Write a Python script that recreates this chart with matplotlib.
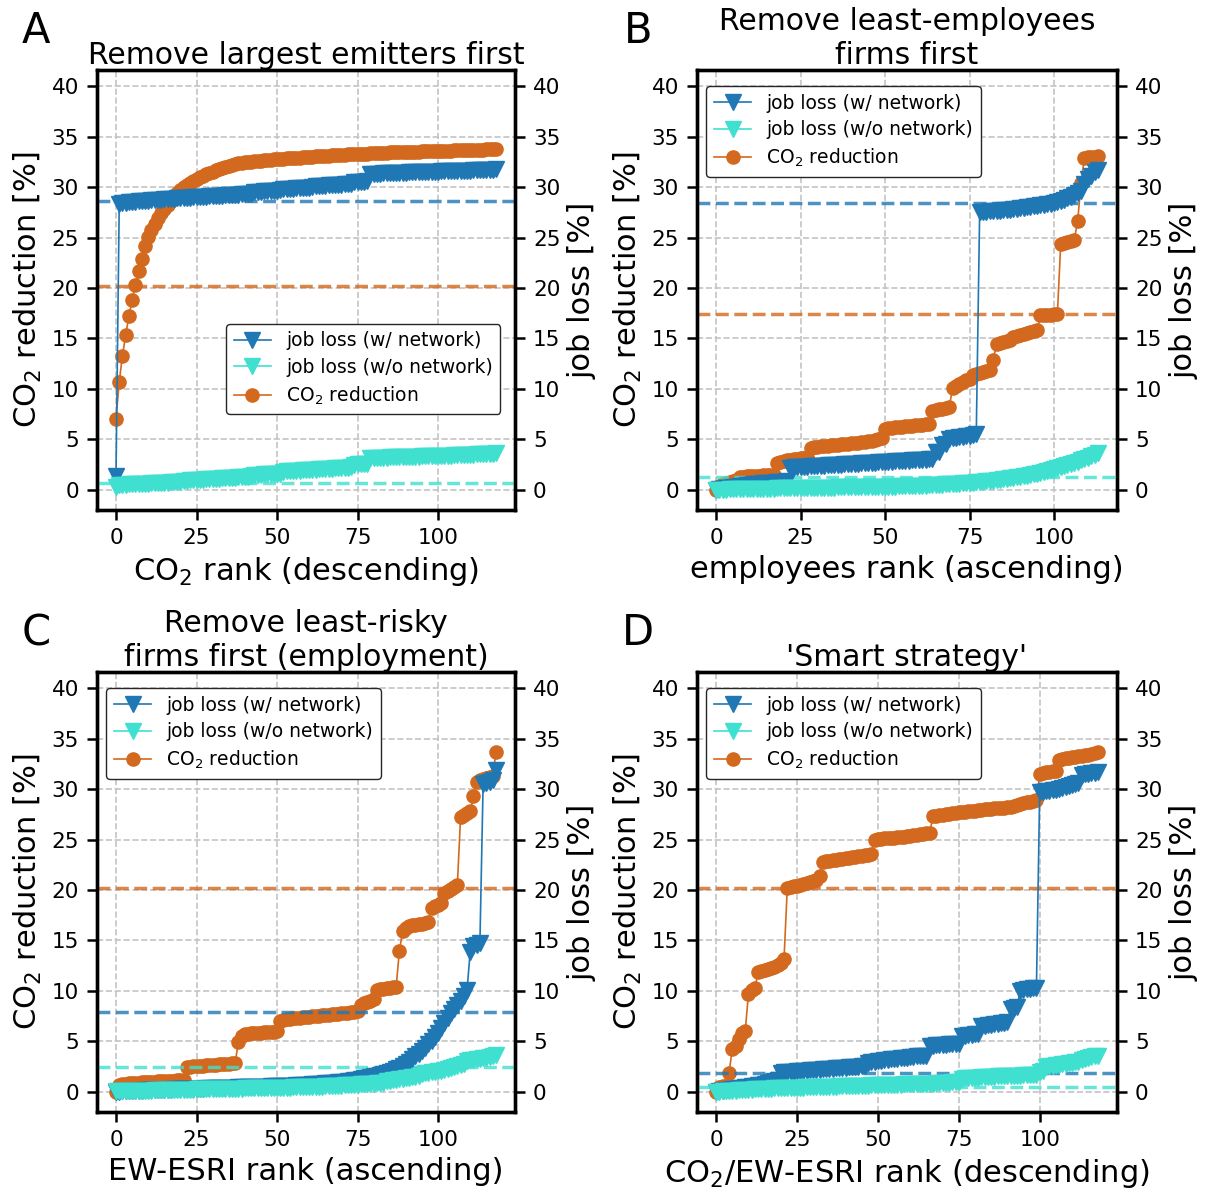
import matplotlib
matplotlib.use("Agg")
import matplotlib.pyplot as plt
from matplotlib.lines import Line2D
import numpy as np

# ---------------- data ----------------
titles = ["Remove largest emitters first",
          "Remove least-employees\nfirms first",
          "Remove least-risky\nfirms first (employment)",
          "'Smart strategy'"]
xlabels = ["CO$_2$ rank (descending)", "employees rank (ascending)",
           "EW-ESRI rank (ascending)", "CO$_2$/EW-ESRI rank (descending)"]
letters = ["A", "B", "C", "D"]

A_co2 = [7.0, 10.7, 13.3, 15.3, 17.2, 18.8, 20.3, 21.7, 22.9, 24.2,
         25.1, 25.7, 26.3, 26.9, 27.4, 27.8, 28.2, 28.6, 29.0, 29.4,
         29.7, 30.0, 30.2, 30.4, 30.6, 30.8, 31.0, 31.1, 31.3, 31.4,
         31.5, 31.65, 31.8, 31.9, 32.0, 32.1, 32.2, 32.3, 32.35, 32.4,
         32.45, 32.5, 32.5, 32.55, 32.6, 32.6, 32.65, 32.7, 32.7, 32.75,
         32.75, 32.8, 32.8, 32.85, 32.85, 32.9, 32.9, 32.9, 32.95, 32.95,
         33.0, 33.0, 33.05, 33.05, 33.1, 33.1, 33.1, 33.15, 33.15, 33.2,
         33.2, 33.2, 33.25, 33.25, 33.25, 33.3, 33.3, 33.3, 33.32, 33.34,
         33.36, 33.38, 33.4, 33.41, 33.42, 33.43, 33.44, 33.45, 33.46, 33.47,
         33.48, 33.49, 33.5, 33.51, 33.52, 33.53, 33.54, 33.55, 33.56, 33.57,
         33.58, 33.59, 33.6, 33.61, 33.62, 33.63, 33.64, 33.65, 33.66, 33.67,
         33.68, 33.69, 33.7, 33.71, 33.72, 33.73, 33.74, 33.75, 33.76]
A_net = [1.4, 28.3, 28.4, 28.45, 28.5, 28.5, 28.55, 28.6, 28.6, 28.65,
         28.65, 28.7, 28.7, 28.75, 28.75, 28.8, 28.8, 28.85, 28.85, 28.9,
         28.9, 28.9, 28.95, 28.95, 29.0, 29.0, 29.0, 29.05, 29.05, 29.1,
         29.1, 29.1, 29.15, 29.15, 29.2, 29.2, 29.2, 29.25, 29.25, 29.3,
         29.3, 29.3, 29.35, 29.5, 29.55, 29.55, 29.6, 29.6, 29.6, 29.65,
         29.65, 29.7, 29.8, 29.8, 29.85, 29.85, 29.9, 29.9, 29.9, 29.95,
         29.95, 30.0, 30.1, 30.1, 30.15, 30.15, 30.2, 30.2, 30.2, 30.25,
         30.25, 30.3, 30.3, 30.3, 30.5, 30.5, 30.55, 30.55, 30.6, 31.3,
         31.3, 31.32, 31.34, 31.35, 31.36, 31.38, 31.4, 31.41, 31.42, 31.43,
         31.44, 31.45, 31.46, 31.47, 31.48, 31.49, 31.5, 31.51, 31.52, 31.53,
         31.54, 31.55, 31.56, 31.57, 31.58, 31.59, 31.6, 31.61, 31.62, 31.63,
         31.64, 31.65, 31.66, 31.67, 31.68, 31.7, 31.71, 31.72, 31.75]
A_nonet = [0.3, 0.48, 0.5, 0.52, 0.53, 0.55, 0.56, 0.58, 0.59, 0.6,
           0.62, 0.63, 0.65, 0.66, 0.68, 0.7, 0.71, 0.73, 0.75, 0.77,
           0.8, 0.83, 0.88, 0.95, 0.97, 0.99, 1.0, 1.02, 1.04, 1.06,
           1.08, 1.1, 1.12, 1.14, 1.16, 1.18, 1.2, 1.22, 1.24, 1.25,
           1.27, 1.3, 1.32, 1.46, 1.48, 1.5, 1.52, 1.54, 1.55, 1.57,
           1.58, 1.6, 1.8, 1.82, 1.84, 1.86, 1.88, 1.9, 1.92, 1.94,
           1.96, 1.98, 2.0, 2.02, 2.04, 2.06, 2.08, 2.1, 2.12, 2.14,
           2.16, 2.18, 2.2, 2.25, 2.5, 2.52, 2.55, 2.57, 2.6, 3.15,
           3.16, 3.17, 3.18, 3.19, 3.2, 3.21, 3.22, 3.23, 3.24, 3.25,
           3.26, 3.27, 3.28, 3.29, 3.3, 3.31, 3.32, 3.33, 3.34, 3.35,
           3.36, 3.37, 3.38, 3.39, 3.4, 3.41, 3.42, 3.43, 3.44, 3.45,
           3.46, 3.48, 3.5, 3.51, 3.53, 3.55, 3.56, 3.58, 3.6]

B_co2 = [0.0, 0.4, 0.6, 0.7, 0.8, 0.9, 1.0, 1.3, 1.3, 1.35,
         1.35, 1.4, 1.4, 1.4, 1.45, 1.45, 1.45, 1.5, 2.7, 2.8,
         2.9, 2.95, 3.0, 3.05, 3.1, 3.15, 3.2, 3.25, 4.1, 4.2,
         4.25, 4.3, 4.3, 4.35, 4.4, 4.4, 4.45, 4.5, 4.5, 4.55,
         4.6, 4.6, 4.65, 4.7, 4.75, 4.8, 4.85, 4.9, 5.0, 5.1,
         6.0, 6.1, 6.15, 6.2, 6.2, 6.25, 6.3, 6.3, 6.35, 6.4,
         6.4, 6.45, 6.5, 6.5, 7.8, 7.9, 8.0, 8.0, 8.1, 8.2,
         10.1, 10.3, 10.5, 10.7, 10.9, 11.0, 11.4, 11.5, 11.6, 11.7,
         11.8, 11.9, 12.9, 14.4, 14.5, 14.6, 14.7, 14.8, 15.1, 15.2,
         15.3, 15.4, 15.5, 15.6, 15.7, 15.8, 17.3, 17.3, 17.3, 17.35,
         17.4, 17.4, 24.4, 24.5, 24.6, 24.7, 24.8, 26.6, 30.4, 32.9,
         33.0, 33.0, 33.0, 33.05]
B_net = [0.0, 0.05, 0.1, 0.15, 0.2, 0.25, 0.3, 0.35, 0.4, 0.45,
         0.5, 0.55, 0.6, 0.62, 0.65, 0.68, 0.7, 0.72, 0.75, 0.78,
         0.8, 0.85, 2.2, 2.22, 2.24, 2.26, 2.28, 2.3, 2.32, 2.34,
         2.36, 2.38, 2.4, 2.42, 2.44, 2.46, 2.48, 2.5, 2.52, 2.54,
         2.56, 2.58, 2.6, 2.62, 2.64, 2.66, 2.68, 2.7, 2.72, 2.74,
         2.76, 2.78, 2.8, 2.82, 2.84, 2.86, 2.88, 2.9, 2.92, 2.94,
         2.96, 2.98, 3.0, 3.02, 3.05, 3.7, 3.75, 4.4, 4.5, 5.0,
         5.1, 5.15, 5.2, 5.25, 5.3, 5.35, 5.4, 5.5, 27.5, 27.52,
         27.55, 27.58, 27.6, 27.63, 27.66, 27.7, 27.73, 27.77, 27.8, 27.85,
         27.9, 27.95, 28.0, 28.05, 28.1, 28.15, 28.2, 28.25, 28.3, 28.35,
         28.4, 28.5, 28.6, 28.75, 28.9, 29.05, 29.2, 29.4, 29.65, 30.3,
         30.8, 31.1, 31.5, 31.7]
B_nonet = [0.0, 0.01, 0.02, 0.03, 0.04, 0.05, 0.06, 0.07, 0.08, 0.09,
           0.1, 0.1, 0.11, 0.11, 0.12, 0.12, 0.13, 0.13, 0.14, 0.14,
           0.15, 0.15, 0.16, 0.16, 0.17, 0.17, 0.18, 0.18, 0.19, 0.19,
           0.2, 0.2, 0.21, 0.21, 0.22, 0.22, 0.23, 0.23, 0.24, 0.24,
           0.25, 0.25, 0.26, 0.26, 0.27, 0.27, 0.28, 0.28, 0.29, 0.29,
           0.3, 0.3, 0.31, 0.32, 0.33, 0.34, 0.35, 0.36, 0.37, 0.38,
           0.39, 0.4, 0.42, 0.44, 0.46, 0.48, 0.5, 0.52, 0.54, 0.56,
           0.58, 0.6, 0.62, 0.64, 0.66, 0.68, 0.71, 0.74, 0.77, 0.8,
           0.84, 0.88, 0.92, 0.96, 1.0, 1.05, 1.1, 1.15, 1.2, 1.25,
           1.3, 1.35, 1.4, 1.45, 1.52, 1.6, 1.68, 1.76, 1.85, 1.95,
           2.05, 2.15, 2.25, 2.35, 2.45, 2.55, 2.68, 2.8, 2.93, 3.06,
           3.2, 3.33, 3.46, 3.6]

C_co2 = [0.0, 0.7, 0.75, 0.8, 0.85, 0.85, 0.9, 0.9, 0.95, 0.95,
         1.0, 1.0, 1.0, 1.05, 1.05, 1.05, 1.1, 1.1, 1.1, 1.15,
         1.15, 1.2, 2.5, 2.5, 2.55, 2.55, 2.6, 2.6, 2.65, 2.65,
         2.7, 2.7, 2.75, 2.75, 2.8, 2.8, 2.85, 2.9, 4.9, 5.5,
         5.7, 5.75, 5.8, 5.8, 5.85, 5.85, 5.9, 5.9, 5.95, 5.95,
         6.0, 7.0, 7.1, 7.2, 7.25, 7.3, 7.3, 7.35, 7.4, 7.4,
         7.45, 7.5, 7.5, 7.55, 7.6, 7.6, 7.65, 7.7, 7.7, 7.75,
         7.8, 7.8, 7.85, 7.9, 7.9, 8.0, 8.6, 8.8, 8.9, 9.0,
         9.2, 10.1, 10.2, 10.2, 10.3, 10.3, 10.4, 10.4, 14.0, 15.9,
         16.2, 16.4, 16.5, 16.5, 16.6, 16.6, 16.7, 16.8, 18.2, 18.4,
         18.5, 18.7, 19.7, 19.9, 20.1, 20.3, 20.5, 27.2, 27.4, 27.6,
         27.8, 29.3, 30.7, 30.9, 31.0, 31.1, 31.2, 31.3, 33.7]
C_net = [0.0, 0.02, 0.04, 0.06, 0.08, 0.1, 0.11, 0.12, 0.13, 0.14,
         0.15, 0.16, 0.17, 0.18, 0.19, 0.2, 0.21, 0.22, 0.23, 0.24,
         0.25, 0.26, 0.27, 0.28, 0.29, 0.3, 0.31, 0.32, 0.33, 0.34,
         0.35, 0.36, 0.37, 0.38, 0.39, 0.4, 0.41, 0.42, 0.43, 0.44,
         0.45, 0.46, 0.47, 0.48, 0.49, 0.5, 0.51, 0.52, 0.53, 0.54,
         0.55, 0.56, 0.57, 0.58, 0.6, 0.62, 0.64, 0.66, 0.68, 0.7,
         0.72, 0.74, 0.76, 0.78, 0.8, 0.83, 0.86, 0.89, 0.92, 0.95,
         0.98, 1.02, 1.06, 1.1, 1.15, 1.2, 1.26, 1.32, 1.38, 1.45,
         1.52, 1.6, 1.68, 1.76, 1.85, 1.95, 2.1, 2.25, 2.4, 2.6,
         2.8, 3.0, 3.25, 3.5, 3.75, 4.0, 4.35, 4.7, 5.05, 5.4,
         5.8, 6.3, 6.8, 7.3, 7.8, 8.2, 8.6, 9.0, 9.5, 10.1,
         13.9, 14.4, 14.5, 14.7, 30.5, 30.6, 30.7, 30.9, 31.9]
C_nonet = [0.05, 0.06, 0.07, 0.08, 0.08, 0.09, 0.1, 0.1, 0.11, 0.12,
           0.12, 0.13, 0.14, 0.14, 0.15, 0.16, 0.16, 0.17, 0.18, 0.18,
           0.19, 0.2, 0.2, 0.21, 0.22, 0.23, 0.23, 0.24, 0.25, 0.25,
           0.26, 0.27, 0.27, 0.28, 0.29, 0.29, 0.3, 0.31, 0.31, 0.32,
           0.33, 0.33, 0.34, 0.35, 0.35, 0.36, 0.37, 0.37, 0.38, 0.39,
           0.39, 0.4, 0.41, 0.41, 0.42, 0.43, 0.44, 0.45, 0.46, 0.47,
           0.48, 0.49, 0.5, 0.51, 0.52, 0.53, 0.55, 0.56, 0.58, 0.6,
           0.62, 0.64, 0.66, 0.68, 0.7, 0.72, 0.74, 0.76, 0.78, 0.8,
           0.82, 0.84, 0.86, 0.88, 1.05, 1.1, 1.15, 1.2, 1.25, 1.3,
           1.35, 1.4, 1.45, 1.5, 1.6, 1.8, 1.85, 1.9, 1.95, 2.0,
           2.05, 2.1, 2.2, 2.3, 2.4, 2.5, 2.6, 2.7, 2.8, 3.1,
           3.15, 3.2, 3.25, 3.3, 3.35, 3.4, 3.45, 3.5, 3.6]

D_co2 = [0.0, 0.5, 0.55, 0.6, 1.9, 4.2, 4.5, 5.2, 5.8, 6.0,
         9.7, 10.1, 10.3, 11.9, 12.0, 12.1, 12.2, 12.3, 12.4, 12.6,
         12.8, 13.2, 20.2, 20.3, 20.4, 20.4, 20.5, 20.6, 20.7, 20.8,
         20.9, 21.0, 21.4, 22.8, 22.85, 22.9, 22.95, 23.0, 23.05, 23.1,
         23.15, 23.2, 23.25, 23.3, 23.35, 23.4, 23.45, 23.5, 23.6, 25.0,
         25.05, 25.1, 25.12, 25.15, 25.18, 25.2, 25.22, 25.25, 25.28, 25.3,
         25.35, 25.4, 25.45, 25.5, 25.55, 25.6, 25.65, 27.3, 27.35, 27.4,
         27.45, 27.5, 27.55, 27.6, 27.65, 27.7, 27.72, 27.75, 27.78, 27.8,
         27.85, 27.9, 27.95, 28.0, 28.02, 28.05, 28.08, 28.1, 28.12, 28.15,
         28.18, 28.2, 28.3, 28.4, 28.5, 28.6, 28.7, 28.75, 28.8, 28.9,
         31.5, 31.6, 31.65, 31.7, 31.75, 31.8, 32.9, 33.0, 33.05, 33.1,
         33.15, 33.2, 33.25, 33.3, 33.35, 33.4, 33.5, 33.6, 33.7]
D_net = [0.0, 0.05, 0.1, 0.15, 0.2, 0.25, 0.3, 0.35, 0.4, 0.45,
         0.5, 0.55, 0.6, 0.65, 0.7, 0.8, 0.9, 1.0, 1.1, 1.17,
         1.9, 1.92, 1.95, 1.97, 2.0, 2.02, 2.05, 2.07, 2.1, 2.12,
         2.15, 2.17, 2.2, 2.22, 2.25, 2.27, 2.3, 2.32, 2.35, 2.37,
         2.4, 2.42, 2.45, 2.47, 2.5, 2.52, 2.55, 2.9, 2.95, 3.0,
         3.05, 3.1, 3.15, 3.2, 3.22, 3.25, 3.3, 3.32, 3.35, 3.4,
         3.42, 3.45, 3.5, 3.52, 3.55, 3.57, 4.5, 4.55, 4.6, 4.62,
         4.65, 4.67, 4.7, 4.72, 4.75, 4.77, 5.5, 5.55, 5.6, 5.65,
         5.7, 5.75, 6.5, 6.55, 6.6, 6.65, 6.7, 6.75, 6.8, 6.85,
         6.9, 8.2, 8.3, 8.4, 10.0, 10.1, 10.15, 10.2, 10.25, 10.3,
         29.7, 29.75, 29.8, 29.85, 29.9, 29.95, 30.0, 30.1, 30.2, 30.3,
         30.4, 30.5, 30.6, 31.4, 31.45, 31.5, 31.55, 31.6, 31.7]
D_nonet = [0.0, 0.02, 0.04, 0.06, 0.08, 0.1, 0.12, 0.14, 0.16, 0.18,
           0.2, 0.22, 0.24, 0.26, 0.28, 0.3, 0.31, 0.32, 0.33, 0.34,
           0.35, 0.36, 0.37, 0.38, 0.39, 0.4, 0.41, 0.42, 0.43, 0.44,
           0.45, 0.46, 0.47, 0.48, 0.49, 0.5, 0.51, 0.52, 0.53, 0.54,
           0.55, 0.56, 0.57, 0.58, 0.59, 0.6, 0.61, 0.62, 0.63, 0.64,
           0.65, 0.66, 0.67, 0.68, 0.69, 0.7, 0.71, 0.72, 0.73, 0.74,
           0.75, 0.76, 0.77, 0.78, 0.79, 0.8, 0.81, 0.82, 0.84, 0.86,
           0.88, 0.9, 0.92, 0.94, 0.96, 0.98, 1.3, 1.32, 1.34, 1.36,
           1.38, 1.4, 1.42, 1.44, 1.46, 1.48, 1.5, 1.52, 1.54, 1.55,
           1.56, 1.57, 1.58, 1.59, 1.6, 1.62, 1.64, 1.66, 1.68, 1.7,
           2.0, 2.05, 2.5, 2.55, 2.6, 2.65, 2.7, 2.75, 2.8, 2.85,
           2.9, 2.95, 3.0, 3.2, 3.3, 3.4, 3.45, 3.5, 3.55]

# reference (dashed) levels: CO2, job loss w/ network, job loss w/o network
ref_co2 = [20.2, 17.4, 20.2, 20.2]
ref_net = [28.6, 28.4, 7.95, 1.85]
ref_nonet = [0.67, 1.25, 2.5, 0.43]

co2_series = [A_co2, B_co2, C_co2, D_co2]
net_series = [A_net, B_net, C_net, D_net]
nonet_series = [A_nonet, B_nonet, C_nonet, D_nonet]

yticks = [0, 5, 10, 15, 20, 25, 30, 35, 40]
xticks = [0, 25, 50, 75, 100]

# ---------------- style ----------------
C_BLUE = "#1f77b4"
C_TURQ = "#40E0D0"
C_ORANGE = "#D2691E"

W, H = 1206, 1191
fig = plt.figure(figsize=(W / 100, H / 100), dpi=100)
boxes = [(97, 70, 515, 510), (697, 70, 1117, 510),
         (97, 672, 515, 1112), (697, 672, 1117, 1112)]
letter_pos = [(36, 31), (638, 31), (36, 633), (638, 633)]

for i in range(4):
    l, t, r, b = boxes[i]
    ax = fig.add_axes([l / W, 1 - b / H, (r - l) / W, (b - t) / H])
    ax2 = ax.twinx()

    co2 = co2_series[i]
    net = net_series[i]
    nonet = nonet_series[i]
    x1 = np.arange(len(co2))
    x2 = np.arange(len(net))
    x3 = np.arange(len(nonet))

    ax.plot(x1, co2, marker="o", ms=9.5, lw=1.2, color=C_ORANGE, zorder=3)
    ax.axhline(ref_co2[i], ls="--", lw=2.5, color=C_ORANGE, alpha=0.8, zorder=2)

    ax2.plot(x2, net, marker="v", ms=11, lw=1.2, color=C_BLUE, zorder=3)
    ax2.plot(x3, nonet, marker="v", ms=11, lw=1.2, color=C_TURQ, zorder=4)
    ax2.axhline(ref_net[i], ls="--", lw=2.5, color=C_BLUE, alpha=0.8, zorder=2)
    ax2.axhline(ref_nonet[i], ls="--", lw=2.5, color=C_TURQ, alpha=0.8, zorder=2)

    for a in (ax, ax2):
        a.set_ylim(-2, 41.6)
        a.set_yticks(yticks)
        for s in a.spines.values():
            s.set_linewidth(2.4)
        a.tick_params(axis="both", which="major", length=7, width=1.8,
                      labelsize=15.5, direction="out", pad=6)
    ax.set_xticks(xticks)
    ax.grid(True, ls="--", lw=1.2, color="#c4c4c4")
    ax.set_axisbelow(True)

    ax.set_ylabel("CO$_2$ reduction [%]", fontsize=22, labelpad=5)
    ax2.set_ylabel("job loss [%]", fontsize=22, labelpad=5)
    ax.set_xlabel(xlabels[i], fontsize=22, labelpad=5)
    ax.set_title(titles[i], fontsize=21.5, pad=3.5, linespacing=1.2)

    handles = [Line2D([], [], color=C_BLUE, marker="v", ms=11, lw=1.2),
               Line2D([], [], color=C_TURQ, marker="v", ms=11, lw=1.2),
               Line2D([], [], color=C_ORANGE, marker="o", ms=9.5, lw=1.2)]
    labels = ["job loss (w/ network)", "job loss (w/o network)", "CO$_2$ reduction"]
    if i == 0:
        leg = ax2.legend(handles, labels, loc="lower right",
                         bbox_to_anchor=(0.965, 0.218), borderaxespad=0,
                         fontsize=13.5, framealpha=1.0, edgecolor="0.15",
                         labelspacing=0.4)
    else:
        leg = ax2.legend(handles, labels, loc="upper left",
                         bbox_to_anchor=(0.0, 0.984), fontsize=13.5,
                         framealpha=1.0, edgecolor="0.15", labelspacing=0.4)
    leg.get_frame().set_linewidth(1.0)

    lx, ly = letter_pos[i]
    fig.text(lx / W, 1 - ly / H, letters[i], fontsize=30,
             ha="center", va="center")

fig.savefig("out.png", dpi=100)
